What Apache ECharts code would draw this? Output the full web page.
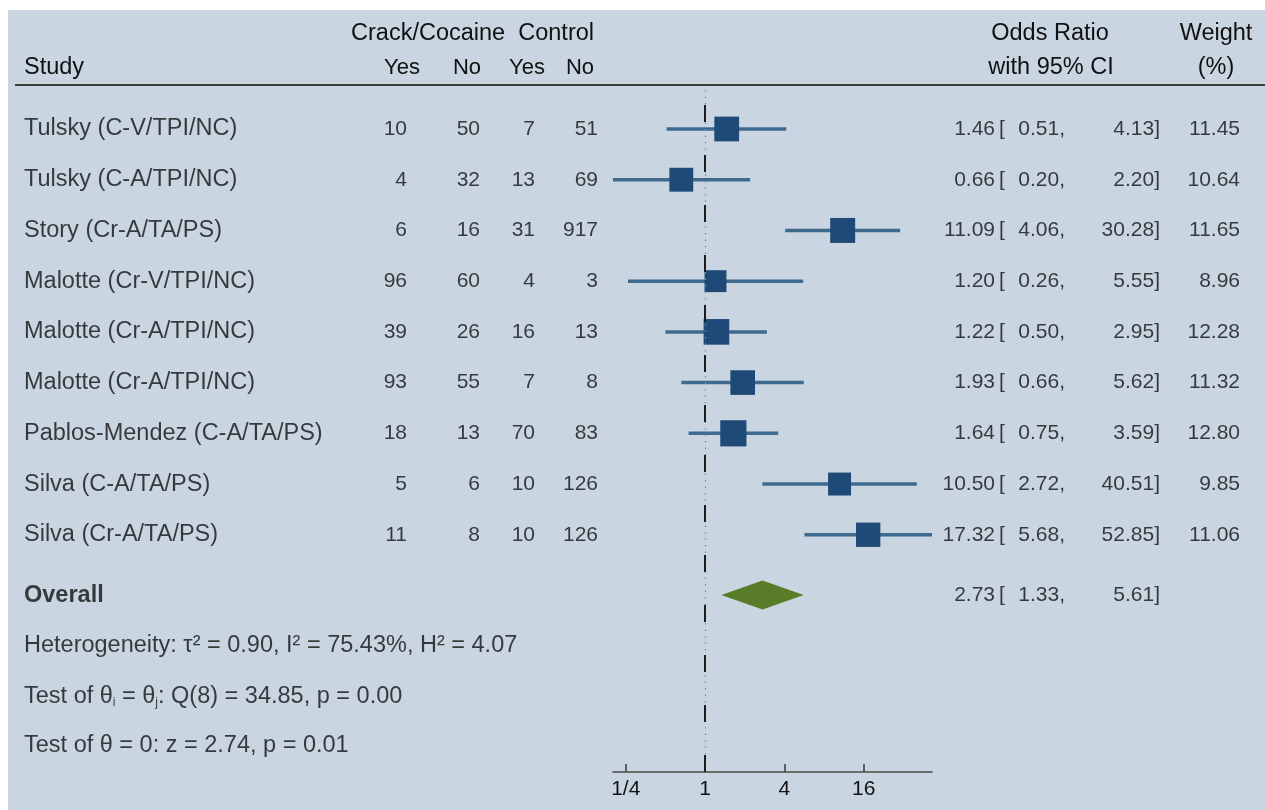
<!DOCTYPE html>
<html lang="en">
<head>
<meta charset="UTF-8">
<title>forest_crack_cocaine</title>
<script src="https://cdn.jsdelivr.net/npm/echarts@6/dist/echarts.min.js"></script>
<style>body{margin:0;background:#fff;}</style>
</head>
<body>
<div id="forest" style="width:1265px;height:810px"></div>
<script type="text/javascript">
// study table
var studies = ['Tulsky (C-V/TPI/NC)', 'Tulsky (C-A/TPI/NC)', 'Story (Cr-A/TA/PS)', 'Malotte (Cr-V/TPI/NC)',
    'Malotte (Cr-A/TPI/NC)', 'Malotte (Cr-A/TPI/NC)', 'Pablos-Mendez (C-A/TA/PS)', 'Silva (C-A/TA/PS)', 'Silva (Cr-A/TA/PS)'];
var crackYes = [10, 4, 6, 96, 39, 93, 18, 5, 11];
var crackNo = [50, 32, 16, 60, 26, 55, 13, 6, 8];
var controlYes = [7, 13, 31, 4, 16, 7, 70, 10, 10];
var controlNo = [51, 69, 917, 3, 13, 8, 83, 126, 126];
var oddsRatio = [1.46, 0.66, 11.09, 1.20, 1.22, 1.93, 1.64, 10.50, 17.32];
var ciLow = [0.51, 0.20, 4.06, 0.26, 0.50, 0.66, 0.75, 2.72, 5.68];
var ciHigh = [4.13, 2.20, 30.28, 5.55, 2.95, 5.62, 3.59, 40.51, 52.85];
var weight = [11.45, 10.64, 11.65, 8.96, 12.28, 11.32, 12.80, 9.85, 11.06];
var overall = [2.73, 1.33, 5.61]; // OR, low, high
var statLines = ['heterogeneity', 'theta_ij', 'theta0'];
var tickValues = [0.25, 1, 4, 16];
var tickLabels = ['1/4', '1', '4', '16'];

var log2 = function (v) { return Math.log(v) / Math.LN2; };
var fmt = function (v) { return v.toFixed(2); };

var font = 'Liberation Sans, Arial, sans-serif';
var fsText = 23.5;   // words
var fsNum = 21;      // numbers
var ink = '#111111';
var boxColor = '#1f4a78';
var ciColor = '#3e6a8e';
var diamondColor = '#587c27';

// row layout (in row units, first study = 0)
var rowTop = 129, rowStep = 50.72, plotTop = 90, plotBottom = 772;
var yMin = (plotTop - rowTop) / rowStep, yMax = (plotBottom - rowTop) / rowStep;
var overallRow = 9.19;
var statRows = [10.19, 11.18, 12.16];
var rows = studies.map(function (s, i) { return i; });

var chart = echarts.init(document.getElementById('forest'));

// one text column of the table, drawn on the table grid
var textCol = function (x, rowList, texts, align, size, extra) {
    var lbl = {
        show: true,
        position: align === 'right' ? 'left' : 'right',
        distance: 0,
        color: ink,
        fontFamily: font,
        fontSize: size,
        formatter: function (p) { return p.data[2]; }
    };
    for (var k in (extra || {})) lbl[k] = extra[k];
    return {
        type: 'scatter', xAxisIndex: 1, yAxisIndex: 1, symbolSize: 0, silent: true, clip: false, z: 5,
        data: texts.map(function (t, i) { return [x, rowList[i], t]; }),
        label: lbl
    };
};

var studyData = oddsRatio.map(function (v, i) {
    return [log2(v), log2(ciLow[i]), log2(ciHigh[i]), rows[i], weight[i]];
});

var headers = [
    {text: 'Crack/Cocaine  Control', x: 594, y: 34, align: 'right', size: fsText},
    {text: 'Study', x: 24, y: 68, align: 'left', size: fsText},
    {text: 'Yes', x: 420, y: 68, align: 'right', size: 22},
    {text: 'No', x: 481, y: 68, align: 'right', size: 22},
    {text: 'Yes', x: 545, y: 68, align: 'right', size: 22},
    {text: 'No', x: 594, y: 68, align: 'right', size: 22},
    {text: 'Odds Ratio', x: 1050, y: 34, align: 'center', size: fsText},
    {text: 'with 95% CI', x: 1051, y: 68, align: 'center', size: fsText},
    {text: 'Weight', x: 1216, y: 34, align: 'center', size: fsText},
    {text: '(%)', x: 1216, y: 68, align: 'center', size: fsText}
];

var graphics = [
    {type: 'rect', z: -100, silent: true, shape: {x: 8, y: 10, width: 1257, height: 800}, style: {fill: '#c9d5e1'}},
    {type: 'line', z: 10, silent: true, shape: {x1: 15, y1: 85, x2: 1265, y2: 85}, style: {stroke: '#3c3c3c', lineWidth: 2}}
];
headers.forEach(function (h) {
    graphics.push({
        type: 'text', z: 10, silent: true,
        style: {text: h.text, x: h.x, y: h.y, align: h.align, verticalAlign: 'middle',
            font: h.size + 'px ' + font, fill: ink}
    });
});

var option = {
    backgroundColor: '#ffffff',
    animation: false,
    graphic: graphics,
    grid: [
        {left: 613, width: 319, top: plotTop, height: plotBottom - plotTop},
        {left: 0, width: 1265, top: plotTop, height: plotBottom - plotTop}
    ],
    xAxis: [
        {
            type: 'value', gridIndex: 0,
            min: log2(ciLow[1]), max: log2(ciHigh[8]),
            splitLine: {show: false},
            axisLine: {show: true, onZero: false, lineStyle: {color: '#4a4a4a', width: 1.5}},
            axisTick: {show: true, inside: true, length: 8, lineStyle: {color: '#3a3a3a', width: 1.5},
                customValues: tickValues.map(log2)},
            axisLabel: {
                show: true, margin: 7, color: ink, fontFamily: font, fontSize: 21,
                customValues: tickValues.map(log2),
                formatter: function (v) {
                    var i = tickValues.map(log2).findIndex(function (t) { return Math.abs(t - v) < 1e-6; });
                    return i >= 0 ? tickLabels[i] : '';
                }
            }
        },
        {type: 'value', gridIndex: 1, min: 0, max: 1265, show: false}
    ],
    yAxis: [
        {type: 'value', gridIndex: 0, inverse: true, min: yMin, max: yMax, show: false},
        {type: 'value', gridIndex: 1, inverse: true, min: yMin, max: yMax, show: false}
    ],
    series: [
        {
            type: 'custom', name: 'studies', xAxisIndex: 0, yAxisIndex: 0, z: 4,
            data: studyData,
            renderItem: function (params, api) {
                var c = api.coord([api.value(0), api.value(3)]);
                var lo = api.coord([api.value(1), api.value(3)]);
                var hi = api.coord([api.value(2), api.value(3)]);
                var s = 7.32 * Math.sqrt(api.value(4));
                return {
                    type: 'group', children: [
                        {type: 'line', shape: {x1: lo[0], y1: lo[1], x2: hi[0], y2: hi[1]},
                            style: {stroke: ciColor, lineWidth: 3.5}},
                        {type: 'rect', shape: {x: c[0] - s / 2, y: c[1] - s / 2, width: s, height: s},
                            style: {fill: boxColor}}
                    ]
                };
            },
            markLine: {
                silent: true, symbol: 'none', label: {show: false},
                data: [
                    {xAxis: 0, lineStyle: {color: '#7f8c98', width: 1.2, type: [1.5, 5]}},
                    {xAxis: 0, lineStyle: {color: '#1c1c1c', width: 2, type: [17, 33], dashOffset: 35}}
                ]
            }
        },
        {
            type: 'custom', name: 'overall', xAxisIndex: 0, yAxisIndex: 0, z: 4,
            data: [[log2(overall[0]), log2(overall[1]), log2(overall[2]), overallRow]],
            renderItem: function (params, api) {
                var c = api.coord([api.value(0), api.value(3)]);
                var lo = api.coord([api.value(1), api.value(3)]);
                var hi = api.coord([api.value(2), api.value(3)]);
                var h = 14.5;
                return {
                    type: 'polygon',
                    shape: {points: [[lo[0], lo[1]], [c[0], c[1] - h], [hi[0], hi[1]], [c[0], c[1] + h]]},
                    style: {fill: diamondColor}
                };
            }
        },
        textCol(24, rows, studies, 'left', fsText),
        textCol(407, rows, crackYes.map(String), 'right', fsNum),
        textCol(480, rows, crackNo.map(String), 'right', fsNum),
        textCol(535, rows, controlYes.map(String), 'right', fsNum),
        textCol(598, rows, controlNo.map(String), 'right', fsNum),
        textCol(995, rows.concat([overallRow]), oddsRatio.concat([overall[0]]).map(fmt), 'right', fsNum),
        textCol(999, rows.concat([overallRow]), rows.concat([overallRow]).map(function () { return '['; }), 'left', fsNum),
        textCol(1065, rows.concat([overallRow]), ciLow.concat([overall[1]]).map(function (v) { return fmt(v) + ','; }), 'right', fsNum),
        textCol(1160, rows.concat([overallRow]), ciHigh.concat([overall[2]]).map(function (v) { return fmt(v) + ']'; }), 'right', fsNum),
        textCol(1240, rows, weight.map(fmt), 'right', fsNum),
        textCol(24, [overallRow], ['Overall'], 'left', fsText, {fontWeight: 'bold'}),
        textCol(24, statRows, statLines.map(function (k) {
            if (k === 'heterogeneity') return '{t|Heterogeneity: τ² = 0.90, I² = 75.43%, H² = 4.07}';
            if (k === 'theta_ij') return '{t|Test of θ}{s|i}{t| = θ}{s|j}{t|: Q(8) = 34.85, p = 0.00}';
            return '{t|Test of θ = 0: z = 2.74, p = 0.01}';
        }), 'left', fsText, {
            rich: {
                t: {fontFamily: font, fontSize: fsText, color: ink},
                s: {fontFamily: font, fontSize: 12, color: ink, verticalAlign: 'bottom', padding: [14, 0, 0, 0]}
            }
        })
    ]
};

chart.setOption(option);
</script>
</body>
</html>
